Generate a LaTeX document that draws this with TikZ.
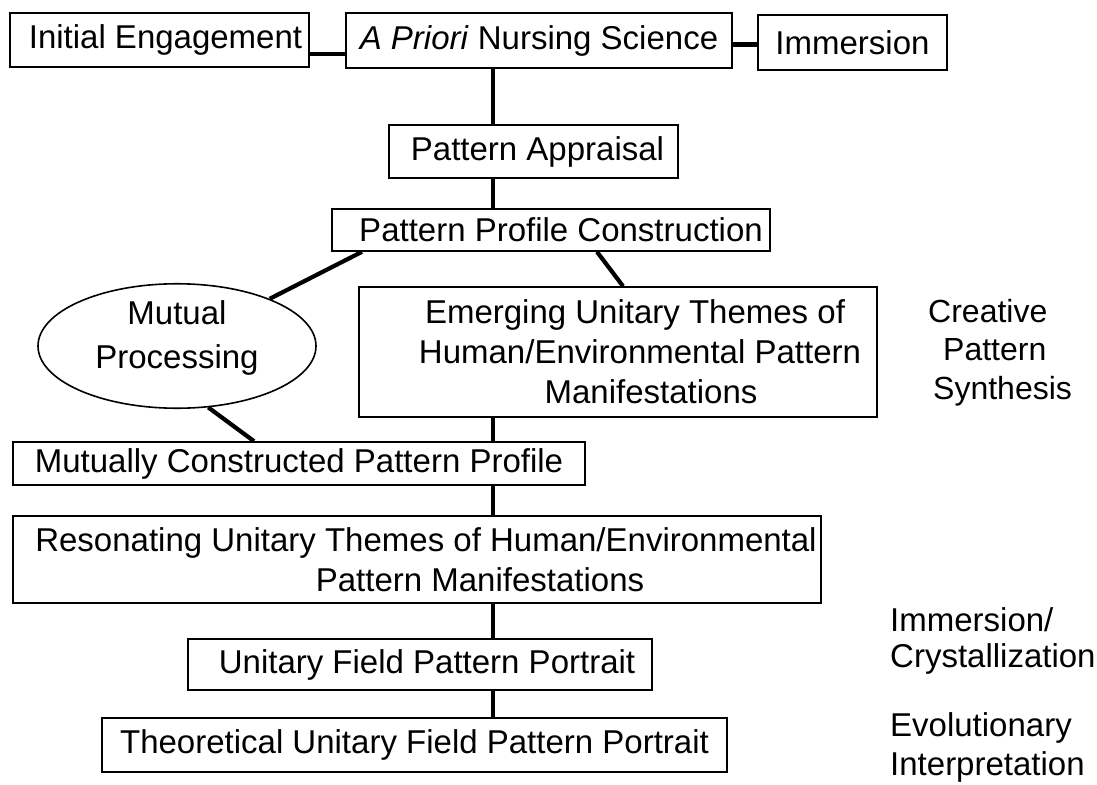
\documentclass[tikz,border=0pt]{standalone}
\usepackage{fontspec}
\setmainfont{Liberation Sans}
\usetikzlibrary{shapes.geometric,calc}
\begin{document}
\begin{tikzpicture}[x=1pt,y=-1pt,
  box/.style={draw,line width=1.6pt,rectangle,inner sep=0pt,align=center,font=\fontsize{33}{40}\selectfont},
  oval/.style={draw,line width=1.6pt,ellipse,inner sep=0pt,align=center,font=\fontsize{33}{44}\selectfont},
  link/.style={line width=4.2pt},
  lbl/.style={inner sep=0pt,align=left,anchor=south west}]
\useasboundingbox (0,0) rectangle (1097,784);
% boxes
\node[box,minimum width=299pt,minimum height=54pt] (ie) at (159.5,40) {\hspace*{12pt}Initial Engagement};
\node[box,minimum width=386pt,minimum height=55pt] (apns) at (539,40.5) {\textit{A Priori} Nursing Science};
\node[box,minimum width=189pt,minimum height=55pt] (imm) at (852.5,42.5) {Immersion};
\node[box,minimum width=289pt,minimum height=53pt] (pa) at (533.5,151.5) {\hspace*{8pt}Pattern Appraisal};
\node[box,minimum width=438pt,minimum height=42pt] (ppc) at (551,230) {\hspace*{20pt}Pattern Profile Construction};
\node[oval,minimum width=278pt,minimum height=122pt] (mp) at (177,346)
  {\raisebox{8pt}[\height][\depth]{\begin{tabular}{@{}c@{}}Mutual\\Processing\end{tabular}}};
\node[box,minimum width=518pt,minimum height=130pt] (em) at (618,352)
  {\hspace*{34pt}Emerging Unitary Themes of\\\hspace*{44pt}Human/Environmental Pattern\\\hspace*{66pt}Manifestations};
\node[box,minimum width=572pt,minimum height=43pt] (mcpp) at (299,463.5) {Mutually Constructed Pattern Profile};
\node[box,minimum width=808pt,minimum height=87pt] (res) at (417,559.5)
  {\hspace*{18pt}Resonating Unitary Themes of Human/Environmental\\\hspace*{126pt}Pattern Manifestations};
\node[box,minimum width=464pt,minimum height=51pt] (ufpp) at (420,664.5) {\hspace*{14pt}Unitary Field Pattern Portrait};
\node[box,minimum width=625pt,minimum height=54pt] (tufpp) at (414.5,745) {Theoretical Unitary Field Pattern Portrait};
% side labels
\node[lbl,font=\fontsize{32}{38.5}\selectfont] (cps) at (928,406) {Creative\\\hspace*{15pt}Pattern\\\hspace*{5pt}Synthesis};
\node[lbl,font=\fontsize{33}{36}\selectfont] (ic) at (890,675) {Immersion/\\Crystallization};
\node[lbl,font=\fontsize{33}{39}\selectfont] (ei) at (890,783) {Evolutionary\\Interpretation};
% connectors
\coordinate (sp) at (493,0);
\coordinate (h1) at ([yshift=-14pt]ie.east);
\draw[link] (h1) -- (h1 -| apns.west);
\coordinate (h2) at ([yshift=-4pt]apns.east);
\draw[link] (h2) -- (h2 -| imm.west);
\draw[link] (apns.south -| sp) -- (pa.north -| sp);
\draw[link] (pa.south -| sp) -- (ppc.north -| sp);
\draw[link] ([xshift=-189pt]ppc.south) -- (mp);
\draw[link] ([xshift=46pt]ppc.south) -- ([xshift=5pt]em.north);
\draw[link] (mp.-63) -- ([xshift=-45pt]mcpp.north);
\draw[link] (em.south -| sp) -- (mcpp.north -| sp);
\draw[link] (mcpp.south -| sp) -- (res.north -| sp);
\draw[link] (res.south -| sp) -- (ufpp.north -| sp);
\draw[link] (ufpp.south -| sp) -- (tufpp.north -| sp);
\end{tikzpicture}
\end{document}
